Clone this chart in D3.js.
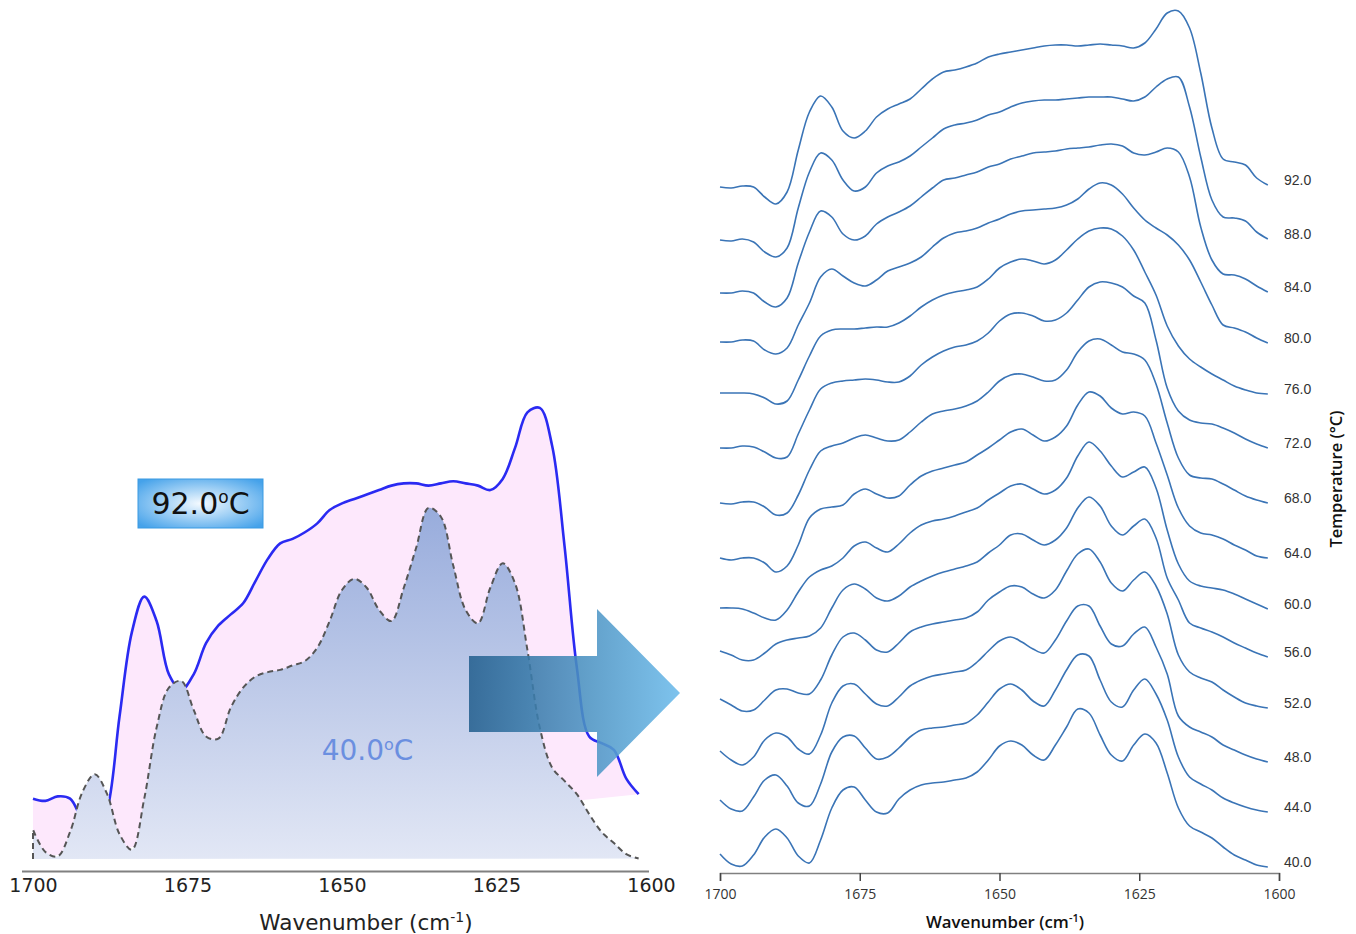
<!DOCTYPE html>
<html><head><meta charset="utf-8">
<script src="https://cdn.jsdelivr.net/npm/d3@7"></script>
<style>html,body{margin:0;padding:0;background:#fff;} svg{display:block}</style>
</head><body>
<svg id="chart" width="1356" height="934"></svg>
<script>
// ---------- DATA ----------
const wavenumbers = [1700,1698,1696,1694,1692,1690,1688,1686,1684,1682,1680,1678,1676,1674,1672,1670,1668,1666,1664,1662,1660,1658,1656,1654,1652,1650,1648,1646,1644,1642,1640,1638,1636,1634,1632,1630,1628,1626,1624,1622,1620,1618,1616,1614,1612,1610,1608,1606,1604,1602];
const xTicks = [1700, 1675, 1650, 1625, 1600];
const temperatures = [40, 44, 48, 52, 56, 60, 64, 68, 72, 76, 80, 84, 88, 92];

// stacked absorbance (a.u., offset per temperature)
const spec40 = [19,9,7,18,36,44,35,17,10,33,65,83,86,73,61,60,74,83,88,90,91,93,95,101,113,127,132,128,118,113,128,146,164,160,138,118,112,128,139,130,100,65,47,41,35,26,18,13,8,6];
const spec44 = [73,64,62,76,93,98,87,70,67,89,121,136,137,125,114,116,125,136,143,145,146,148,150,158,171,184,189,183,172,167,183,203,218,217,193,171,166,183,194,179,153,116,96,89,83,75,70,66,63,61];
const spec48 = [122,113,108,116,133,140,136,124,119,138,170,187,189,179,169,167,176,187,193,197,199,201,203,211,222,232,236,231,224,220,233,252,267,267,247,229,227,239,246,226,199,157,146,141,136,128,123,118,114,111];
const spec52 = [174,168,162,163,173,183,184,180,179,193,218,236,240,233,223,221,230,241,246,249,251,253,255,261,273,281,287,286,279,275,283,302,319,324,311,290,282,293,301,287,259,218,201,195,191,183,176,170,167,165];
const spec56 = [222,218,213,213,220,229,233,235,237,245,265,283,289,284,275,272,277,286,292,297,301,304,307,311,320,328,338,339,333,328,333,345,365,376,367,347,338,347,354,335,295,273,250,245,241,236,230,225,220,216];
const spec60 = [265,265,264,260,255,253,263,281,296,303,307,315,327,331,325,321,329,340,348,352,354,357,361,365,373,380,387,389,384,379,383,395,417,431,422,407,396,401,406,385,343,309,292,287,285,283,279,274,269,264];
const spec64 = [315,313,315,315,310,301,307,328,355,364,366,368,379,384,379,375,377,388,397,402,405,408,411,418,425,433,441,444,438,432,436,447,468,481,477,465,459,461,457,430,398,365,347,340,338,334,328,323,317,315];
const spec68 = [370,369,371,371,366,358,360,378,403,422,427,430,435,438,435,432,433,441,451,459,462,464,467,472,481,492,498,499,496,492,493,503,521,532,534,528,521,519,513,489,450,415,398,395,394,389,383,377,373,370];
const spec72 = [425,425,427,426,421,415,416,439,463,484,490,492,493,494,493,491,491,497,508,516,522,526,528,532,540,552,559,560,557,552,553,560,573,586,591,590,586,577,570,533,485,462,453,450,449,445,440,434,429,425];
const spec76 = [480,480,480,479,475,469,472,493,517,537,543,544,544,545,546,546,550,557,566,573,578,581,583,586,594,605,611,614,612,609,613,623,634,642,645,644,637,623,601,578,547,527,514,506,499,493,487,483,480,479];
const spec80 = [531,531,533,532,523,519,525,548,570,596,604,597,590,587,593,602,606,610,616,626,635,640,642,645,650,654,659,662,663,664,665,668,674,684,690,688,679,665,653,645,638,628,613,591,568,548,545,541,535,530];
const spec84 = [580,580,582,580,571,566,575,610,641,662,656,639,633,637,649,656,661,667,676,685,693,695,698,701,706,709,714,717,720,721,722,724,725,726,728,729,727,720,718,721,725,721,696,646,613,599,598,594,587,581];
const spec88 = [633,632,634,631,621,616,625,665,701,720,713,693,682,686,700,707,711,717,726,735,744,748,750,753,758,761,766,770,772,773,773,774,775,776,776,776,774,772,776,786,794,796,766,716,673,656,655,652,641,634];
const spec92 = [686,685,687,686,676,669,681,723,761,777,766,742,735,742,756,764,769,774,784,794,801,803,806,810,816,819,821,823,825,827,828,828,827,828,829,828,827,825,830,844,860,862,845,800,745,714,711,708,695,688];

const spectra = [spec40, spec44, spec48, spec52, spec56, spec60, spec64, spec68, spec72, spec76, spec80, spec84, spec88, spec92];

// left (zoomed comparison) panel: which spectra, their offsets and fill baselines
const leftTemps = [92, 40];
const leftOffsets = [653, 0];
const leftFillBase = [6.5, 5.8];

// ---------- DRAW ----------
const svg = d3.select('#chart');
const defs = svg.append('defs');

// gradients
const g40 = defs.append('linearGradient').attr('id','grad40').attr('x1',0).attr('y1',0).attr('x2',0).attr('y2',1);
g40.append('stop').attr('offset','0%').attr('stop-color','#98acdc');
g40.append('stop').attr('offset','100%').attr('stop-color','#e2e7f5');

const gBox = defs.append('radialGradient').attr('id','gradBox').attr('cx','50%').attr('cy','50%').attr('r','65%');
gBox.append('stop').attr('offset','0%').attr('stop-color','#f4faff');
gBox.append('stop').attr('offset','100%').attr('stop-color','#45a2ea');

const gArrow = defs.append('linearGradient').attr('id','gradArrow').attr('x1',0).attr('y1',0).attr('x2',1).attr('y2',0);
gArrow.append('stop').attr('offset','0%').attr('stop-color','#25608f');
gArrow.append('stop').attr('offset','100%').attr('stop-color','#6cbbeb');

// ----- Right panel -----
const xR = d3.scaleLinear().domain([1700, 1600]).range([720, 1279]);
const yR = d3.scaleLinear().domain([0, 873]).range([873, 0]);
const lineR = d3.line()
  .x((d, i) => xR(wavenumbers[i]))
  .y(d => yR(d))
  .curve(d3.curveCatmullRom.alpha(0.5));

const right = svg.append('g');
spectra.forEach((s, k) => {
  right.append('path')
    .attr('d', lineR(s))
    .attr('fill', 'none')
    .attr('stroke', '#3a74b6')
    .attr('stroke-width', 1.6);
  right.append('text')
    .attr('x', 1284)
    .attr('y', yR(s[s.length - 1]) - 5)
    .attr('dy', '0.35em')
    .attr('font-family', '"Liberation Sans", Arial, sans-serif')
    .attr('font-size', 14)
    .attr('fill', '#333')
    .text(temperatures[k].toFixed(1));
});

const axR = d3.axisBottom(xR).tickValues(xTicks).tickSize(8).tickSizeOuter(8).tickPadding(8).tickFormat(d3.format('d'));
const gAxR = right.append('g').attr('transform', 'translate(0,873)').call(axR);
gAxR.select('.domain').attr('stroke', '#808080').attr('stroke-width', 1.5);
gAxR.selectAll('.tick line').attr('stroke', '#444').attr('stroke-width', 1.5);
gAxR.selectAll('.tick text').attr('font-family', '"Open Sans", sans-serif').attr('font-size', 14).attr('fill', '#333');

right.append('text')
  .attr('x', 1005).attr('y', 922).attr('dy', '0.35em')
  .attr('text-anchor', 'middle')
  .attr('font-family', '"Open Sans", sans-serif').attr('font-weight', 600).attr('font-size', 16.8)
  .attr('fill', '#111')
  .html('Wavenumber (cm<tspan dy="-6" font-size="11">-1</tspan><tspan dy="6">)</tspan>');

right.append('text')
  .attr('transform', 'translate(1336,479) rotate(-90)')
  .attr('dy', '0.35em')
  .attr('text-anchor', 'middle')
  .attr('font-family', '"Open Sans", sans-serif').attr('font-weight', 600).attr('font-size', 16.5)
  .attr('fill', '#111')
  .text('Temperature (°C)');

// ----- Left panel -----
const xL = d3.scaleLinear().domain([1700, 1600]).range([33, 651]);
const yL = d3.scaleLinear().domain([0, 210]).range([871.9, 871.9 - 2.22 * 210]);
const lineL = off => d3.line()
  .x((d, i) => xL(wavenumbers[i]))
  .y(d => yL(d - off))
  .curve(d3.curveCatmullRom.alpha(0.5));

const left = svg.append('g');
const spec = t => spectra[temperatures.indexOf(t)];

// 92 °C : pink area + blue line
{
  const s = spec(leftTemps[0]);
  const str = lineL(leftOffsets[0])(s);
  left.append('path')
    .attr('d', str + `L${xL(wavenumbers[0])},${yL(leftFillBase[0])}Z`)
    .attr('fill', '#fde8fc');
  left.append('path')
    .attr('d', str)
    .attr('fill', 'none')
    .attr('stroke', '#2a2af2')
    .attr('stroke-width', 2.6);
}
// 40 °C : gradient area + dashed line
{
  const s = spec(leftTemps[1]);
  const str = lineL(leftOffsets[1])(s);
  const x0 = xL(wavenumbers[0]), yb = yL(leftFillBase[1]);
  left.append('path')
    .attr('d', str + `L${x0},${yb}Z`)
    .attr('fill', 'url(#grad40)');
  left.append('path')
    .attr('d', `M${x0},${yb}L` + str.slice(1))
    .attr('fill', 'none')
    .attr('stroke', '#555')
    .attr('stroke-width', 2)
    .attr('stroke-dasharray', '6,4');
}

// left axis
left.append('line').attr('x1', 22).attr('x2', 649).attr('y1', 871.4).attr('y2', 871.4)
  .attr('stroke', '#808080').attr('stroke-width', 2);
const axL = d3.axisBottom(xL).tickValues(xTicks).tickSize(0).tickFormat(d3.format('d'));
const gAxL = left.append('g').attr('transform', 'translate(0,871.4)').call(axL);
gAxL.select('.domain').remove();
gAxL.selectAll('.tick text').attr('y', 14).attr('dy', '0.35em')
  .attr('font-family', '"DejaVu Sans", Verdana, sans-serif').attr('font-size', 19).attr('fill', '#222');

left.append('text')
  .attr('x', 366).attr('y', 922).attr('dy', '0.35em')
  .attr('text-anchor', 'middle')
  .attr('font-family', '"DejaVu Sans", Verdana, sans-serif').attr('font-size', 21.5)
  .attr('fill', '#222')
  .html('Wavenumber (cm<tspan dy="-8" font-size="14">-1</tspan><tspan dy="8">)</tspan>');

// 92.0 label box
left.append('rect').attr('x', 138).attr('y', 479).attr('width', 125).attr('height', 49)
  .attr('fill', 'url(#gradBox)').attr('stroke', '#3a9ae2').attr('stroke-width', 1);
left.append('text')
  .attr('x', 200.5).attr('y', 514)
  .attr('text-anchor', 'middle')
  .attr('font-family', '"DejaVu Sans", Verdana, sans-serif').attr('font-size', 30)
  .attr('fill', '#111')
  .html(leftTemps[0].toFixed(1) + '<tspan dy="-11" font-size="17">o</tspan><tspan dy="11">C</tspan>');

// 40.0 label
left.append('text')
  .attr('x', 367.5).attr('y', 760)
  .attr('text-anchor', 'middle')
  .attr('font-family', '"DejaVu Sans", Verdana, sans-serif').attr('font-size', 28)
  .attr('fill', '#6b8fe0')
  .html(leftTemps[1].toFixed(1) + '<tspan dy="-10" font-size="16">o</tspan><tspan dy="10">C</tspan>');

// big arrow
left.append('path')
  .attr('d', 'M469,656L597,656L597,609L680,693L597,777L597,732L469,732Z')
  .attr('fill', 'url(#gradArrow)')
  .attr('opacity', 0.88);
</script>
</body></html>
